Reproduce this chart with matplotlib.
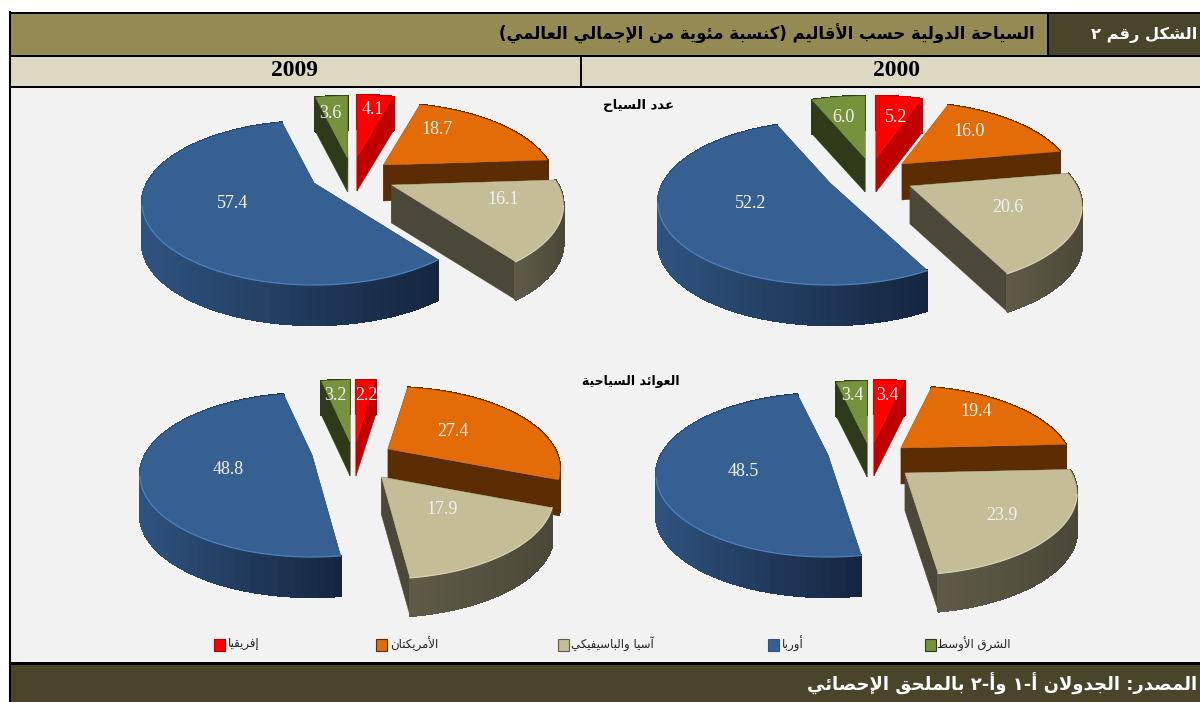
#!/usr/bin/env python3
import numpy as np
import matplotlib
matplotlib.use('Agg')
import matplotlib.pyplot as plt
from matplotlib.colors import to_rgb
from matplotlib.patches import Polygon, Rectangle

# ─── data ─────────────────────────────────────
REGIONS = ['إفريقيا', 'الأمريكتان', 'آسيا والباسيفيكي', 'أوربا', 'الشرق الأوسط']
ARRIVALS_2000 = [5.2, 16.0, 20.6, 52.2, 6.0]
ARRIVALS_2009 = [4.1, 18.7, 16.1, 57.4, 3.6]
RECEIPTS_2000 = [3.4, 19.4, 23.9, 48.5, 3.4]
RECEIPTS_2009 = [2.2, 27.4, 17.9, 48.8, 3.2]

TITLE = 'السياحة الدولية حسب الأقاليم (كنسبة مئوية من الإجمالي العالمي)'
FIG_LABEL = 'الشكل رقم ٢'
SOURCE = 'المصدر: الجدولان أ-١ وأ-٢ بالملحق الإحصائي'
ROW_ARRIVALS = 'عدد السياح'
ROW_RECEIPTS = 'العوائد السياحية'
YEARS = ['2009', '2000']

# ─── styles / layout (pixels) ─────────────────
TOP_COL = ['#ff0000', '#e36c09', '#c4bd97', '#376092', '#76923c']
SIDE_LEFT = ['#c00000', '#5c2c02', '#5f5b48', '#2f5380', '#2f3a18']
SIDE_RIGHT = ['#c00000', '#5c2c02', '#4c4839', '#15263f', '#2f3a18']
RIM_EDGE = [None, None, '#d9d3b2', '#4f81bd', None]
DEPTH = [34, 36, 38, 40, 34]
DRAW_ORDER = [4, 0, 3, 1, 2]
RX, RY, APEX_SHIFT, WARP = 172, 82, 20, 10

# apex of every wedge, same order as REGIONS
APEX_A00 = [(876, 158), (902, 164), (910, 186), (830, 183), (865, 158)]
APEX_A09 = [(357, 157), (383.5, 165), (391.5, 185), (314, 183), (347.5, 158)]
APEX_R00 = [(874, 442), (901, 448), (905, 473), (828, 455), (867, 443)]
APEX_R09 = [(356, 442), (388, 449), (381.5, 477), (312, 455), (350, 442)]
LABEL_A00 = [(896, 117), (969, 132), (1008, 208), (751, 203), (843, 118)]
LABEL_A09 = [(373, 110), (437, 129), (503, 200), (233, 204), (330, 114)]
LABEL_R00 = [(887, 396), (976, 412), (1002, 516), (743, 471), (852, 395)]
LABEL_R09 = [(366, 396), (453, 432), (442, 510), (228, 470), (335, 395)]

LEGEND_BOX_X = [214, 376, 558, 768, 925]
LEGEND_TEXT_X = [228, 390, 571, 782, 937]

ARABIC_FONT = ['DejaVu Sans']
SERIF_FONT = ['Liberation Serif']

# matplotlib has no bidi/shaping, so map to presentation forms and reverse
# value: isolated code + number of forms (2 = joins right only, 4 = both sides)
FORMS = {'ء': (0xFE80, 1), 'آ': (0xFE81, 2), 'أ': (0xFE83, 2), 'ؤ': (0xFE85, 2), 'إ': (0xFE87, 2),
         'ئ': (0xFE89, 4), 'ا': (0xFE8D, 2), 'ب': (0xFE8F, 4), 'ة': (0xFE93, 2), 'ت': (0xFE95, 4),
         'ث': (0xFE99, 4), 'ج': (0xFE9D, 4), 'ح': (0xFEA1, 4), 'خ': (0xFEA5, 4), 'د': (0xFEA9, 2),
         'ذ': (0xFEAB, 2), 'ر': (0xFEAD, 2), 'ز': (0xFEAF, 2), 'س': (0xFEB1, 4), 'ش': (0xFEB5, 4),
         'ص': (0xFEB9, 4), 'ض': (0xFEBD, 4), 'ط': (0xFEC1, 4), 'ظ': (0xFEC5, 4), 'ع': (0xFEC9, 4),
         'غ': (0xFECD, 4), 'ف': (0xFED1, 4), 'ق': (0xFED5, 4), 'ك': (0xFED9, 4), 'ل': (0xFEDD, 4),
         'م': (0xFEE1, 4), 'ن': (0xFEE5, 4), 'ه': (0xFEE9, 4), 'و': (0xFEED, 2), 'ى': (0xFEEF, 2),
         'ي': (0xFEF1, 4)}
LAM_ALEF = {'آ': 0xFEF5, 'أ': 0xFEF7, 'إ': 0xFEF9, 'ا': 0xFEFB}
MIRROR = {'(': ')', ')': '('}


def shape(text):
    """Arabic string -> visual order string of presentation forms."""
    out = []
    i = 0
    while i < len(text):
        c = text[i]
        if c not in FORMS:
            out.append(MIRROR.get(c, c))
            i += 1
            continue
        prev = text[i - 1] if i else ''
        joins_prev = prev in FORMS and FORMS[prev][1] == 4
        nxt = text[i + 1] if i + 1 < len(text) else ''
        if c == 'ل' and nxt in LAM_ALEF:
            out.append(chr(LAM_ALEF[nxt] + (1 if joins_prev else 0)))
            i += 2
            continue
        base, n = FORMS[c]
        joins_next = n == 4 and nxt in FORMS
        if n == 1:
            form = 0
        elif joins_prev and joins_next:
            form = 3
        elif joins_next:
            form = 2
        elif joins_prev:
            form = 1
        else:
            form = 0
        out.append(chr(base + form))
        i += 1
    return ''.join(reversed(out))


def wedge_angles(values):
    """Cumulative clockwise angles from the top, values rescaled to a full circle."""
    edges = np.cumsum([0] + list(values)) / sum(values) * 2 * np.pi
    return edges[:-1], edges[1:]


def rim_points(apex, t0, t1):
    t = np.linspace(t0, t1, 80)
    t = t - np.radians(WARP) * np.sin(t)  # perspective of the tilted pie
    cy = apex[1] + APEX_SHIFT
    return apex[0] + RX * np.sin(t), cy - RY * np.cos(t)


def draw_pie(ax, values, apexes, label_pos):
    starts, ends = wedge_angles(values)
    for z, i in enumerate(DRAW_ORDER):
        zo = 3 + z
        ax_, ay_ = apexes[i]
        x, y = rim_points(apexes[i], starts[i], ends[i])
        px = np.r_[ax_, x]
        py = np.r_[ay_, y]
        d = DEPTH[i]
        left, right = np.array(to_rgb(SIDE_LEFT[i])), np.array(to_rgb(SIDE_RIGHT[i]))
        xmin, xmax = x.min(), x.max()
        # edge faces first, then rim strips with the shading across the width
        for a, b in [(0, 1), (0, len(px) - 1)]:
            quad = [(px[a], py[a]), (px[b], py[b]), (px[b], py[b] + d), (px[a], py[a] + d)]
            ax.add_patch(Polygon(quad, fc=SIDE_RIGHT[i], ec=SIDE_RIGHT[i], lw=0.3, zorder=zo))
        for k in range(1, len(px) - 1):
            f = (px[k] - xmin) / max(xmax - xmin, 1)
            col = left + (right - left) * f
            quad = [(px[k], py[k]), (px[k + 1], py[k + 1]),
                    (px[k + 1], py[k + 1] + d), (px[k], py[k] + d)]
            ax.add_patch(Polygon(quad, fc=col, ec=col, lw=1.0, antialiased=False, zorder=zo))
        ax.add_patch(Polygon(np.c_[px, py], fc=TOP_COL[i], ec=TOP_COL[i], lw=0.3, zorder=zo + 0.1))
        if RIM_EDGE[i]:
            front = y > ay_ + APEX_SHIFT
            ax.plot(x[front], y[front], color=RIM_EDGE[i], lw=0.9, zorder=zo + 0.2)
    for i, v in enumerate(values):
        ax.text(label_pos[i][0], label_pos[i][1], f'{v:.1f}', ha='center', va='center',
                color='#f2f2f2', fontsize=13, family=SERIF_FONT, zorder=20)


def band(ax, x0, y0, x1, y1, color):
    ax.add_patch(Rectangle((x0, y0), x1 - x0, y1 - y0, fc=color, ec='none', zorder=1))


def main():
    fig = plt.figure(figsize=(12, 7.02), dpi=100, facecolor='white')
    ax = fig.add_axes([0, 0, 1, 1])
    ax.set_xlim(0, 1200)
    ax.set_ylim(702, 0)
    ax.axis('off')

    # table frame
    band(ax, 10, 13, 1200, 56, '#948a54')
    band(ax, 1048, 13, 1200, 56, '#4a452a')
    band(ax, 10, 56, 1200, 87, '#ddd9c3')
    band(ax, 10, 87, 1200, 662, '#f2f2f2')
    band(ax, 10, 662, 1200, 702, '#4a452a')
    for y, lw in [(12.5, 2), (56, 2), (87, 2), (662.5, 3)]:
        ax.plot([9, 1200], [y, y], color='black', lw=lw * 0.72, zorder=2, solid_capstyle='butt')
    ax.plot([10, 10], [12, 702], color='black', lw=1.5, zorder=2)
    ax.plot([1048, 1048], [13, 56], color='black', lw=1.4, zorder=2)
    ax.plot([581, 581], [56, 87], color='black', lw=1.4, zorder=2)

    ax.text(1035, 34, shape(TITLE), ha='right', va='center', fontsize=11.9, fontweight='bold',
            family=ARABIC_FONT, color='black', zorder=5)
    ax.text(1197, 35, shape(FIG_LABEL), ha='right', va='center', fontsize=11.7, fontweight='bold',
            family=ARABIC_FONT, color='white', zorder=5)
    ax.text(295, 71, YEARS[0], ha='center', va='center', fontsize=17, fontweight='bold',
            family=SERIF_FONT, color='black', zorder=5)
    ax.text(896, 71, YEARS[1], ha='center', va='center', fontsize=17, fontweight='bold',
            family=SERIF_FONT, color='black', zorder=5)
    ax.text(1197, 684, shape(SOURCE), ha='right', va='center', fontsize=13, fontweight='bold',
            family=ARABIC_FONT, color='white', zorder=5)
    ax.text(639, 106, shape(ROW_ARRIVALS), ha='center', va='center', fontsize=9.5, fontweight='bold',
            family=ARABIC_FONT, color='black', zorder=25)
    ax.text(631, 382, shape(ROW_RECEIPTS), ha='center', va='center', fontsize=9, fontweight='bold',
            family=ARABIC_FONT, color='black', zorder=25)

    draw_pie(ax, ARRIVALS_2000, APEX_A00, LABEL_A00)
    draw_pie(ax, ARRIVALS_2009, APEX_A09, LABEL_A09)
    draw_pie(ax, RECEIPTS_2000, APEX_R00, LABEL_R00)
    draw_pie(ax, RECEIPTS_2009, APEX_R09, LABEL_R09)

    # legend
    for i, name in enumerate(REGIONS):
        ax.add_patch(Rectangle((LEGEND_BOX_X[i], 639), 11, 12, fc=TOP_COL[i], ec=SIDE_LEFT[i], lw=0.8, zorder=5))
        ax.text(LEGEND_TEXT_X[i], 644, shape(name), ha='left', va='center', fontsize=8.5,
                family=ARABIC_FONT, color='#222222', zorder=5)

    fig.savefig('out.png', dpi=100, facecolor='white')
    plt.close(fig)


if __name__ == '__main__':
    main()
